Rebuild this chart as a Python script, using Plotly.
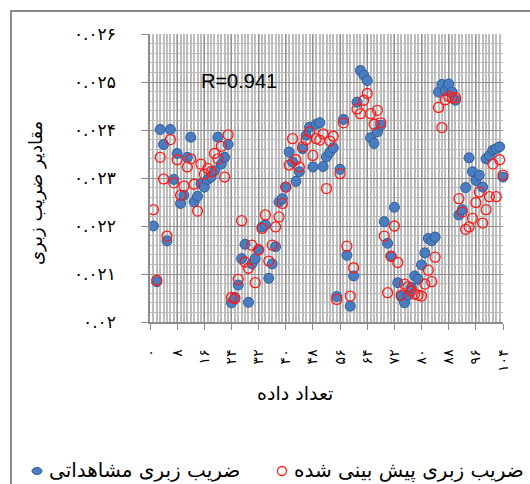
import plotly.graph_objects as go

# sample index (x) and roughness coefficients
SAMPLE_INDEX = list(range(1, 105))

OBSERVED = [
    0.02200, 0.02084, 0.02401, 0.02370, 0.02169, 0.02401, 0.02297, 0.02351, 0.02247, 0.02264,
    0.02343, 0.02385, 0.02250, 0.02262, 0.02288, 0.02281, 0.02297, 0.02302, 0.02315, 0.02385,
    0.02329, 0.02343, 0.02370, 0.02040, 0.02051, 0.02077, 0.02132, 0.02162, 0.02041, 0.02121,
    0.02132, 0.02151, 0.02198, 0.02202, 0.02091, 0.02121, 0.02157, 0.02250, 0.02257, 0.02281,
    0.02354, 0.02333, 0.02293, 0.02313, 0.02361, 0.02389, 0.02406, 0.02323, 0.02412, 0.02415,
    0.02324, 0.02344, 0.02354, 0.02363, 0.02053, 0.02318, 0.02422, 0.02139, 0.02033, 0.02096,
    0.02458, 0.02524, 0.02514, 0.02503, 0.02384, 0.02372, 0.02396, 0.02410, 0.02209, 0.02164,
    0.02137, 0.02239, 0.02082, 0.02053, 0.02040, 0.02056, 0.02072, 0.02096, 0.02089, 0.02119,
    0.02144, 0.02174, 0.02169, 0.02177, 0.02479, 0.02495, 0.02482, 0.02496, 0.02479, 0.02462,
    0.02223, 0.02234, 0.02280, 0.02342, 0.02313, 0.02295, 0.02306, 0.02281, 0.02340, 0.02347,
    0.02358, 0.02361, 0.02365, 0.02302,
]

PREDICTED = [
    0.02234, 0.02087, 0.02343, 0.02298, 0.02179, 0.02380, 0.02290, 0.02338, 0.02264, 0.02283,
    0.02323, 0.02340, 0.02287, 0.02231, 0.02329, 0.02308, 0.02320, 0.02313, 0.02351, 0.02340,
    0.02366, 0.02302, 0.02390, 0.02051, 0.02049, 0.02089, 0.02211, 0.02125, 0.02112, 0.02160,
    0.02082, 0.02150, 0.02195, 0.02223, 0.02127, 0.02160, 0.02198, 0.02219, 0.02247, 0.02281,
    0.02327, 0.02382, 0.02338, 0.02323, 0.02365, 0.02380, 0.02396, 0.02347, 0.02382, 0.02379,
    0.02392, 0.02278, 0.02377, 0.02387, 0.02047, 0.02309, 0.02415, 0.02158, 0.02054, 0.02113,
    0.02444, 0.02434, 0.02462, 0.02476, 0.02434, 0.02412, 0.02441, 0.02415, 0.02179, 0.02061,
    0.02137, 0.02200, 0.02124, 0.02056, 0.02079, 0.02073, 0.02065, 0.02058, 0.02056, 0.02054,
    0.02079, 0.02108, 0.02084, 0.02135, 0.02447, 0.02405, 0.02463, 0.02470, 0.02467, 0.02467,
    0.02257, 0.02229, 0.02193, 0.02198, 0.02216, 0.02249, 0.02271, 0.02206, 0.02234, 0.02261,
    0.02329, 0.02261, 0.02338, 0.02306,
]

SERIES_NAMES = ["ضریب زبری مشاهداتی", "ضریب زبری پیش بینی شده"]
X_TITLE = "تعداد داده"
Y_TITLE = "مقادیر ضریب زبری"
R_LABEL = "R=0.941"

FA_DIGITS = str.maketrans("0123456789", "۰۱۲۳۴۵۶۷۸۹")
X_TICKS = list(range(0, 105, 8))
X_TICK_LABELS = [str(v).translate(FA_DIGITS) for v in X_TICKS]
Y_TICKS = [0.020, 0.021, 0.022, 0.023, 0.024, 0.025, 0.026]
Y_TICK_LABELS = ["۰.۰۲", "۰.۰۲۱", "۰.۰۲۲", "۰.۰۲۳", "۰.۰۲۴", "۰.۰۲۵", "۰.۰۲۶"]

BLUE = "#4a7dc0"
BLUE_EDGE = "#2e5d9c"
RED = "#ff1a1a"
AXIS_GREY = "#8c8c8c"
FA_FONT = "DejaVu Sans, Noto Sans, sans-serif"

# plot-area geometry in pixels (used to place items in paper units)
W, H = 530, 484
ML, MR, MT, MB = 150, 27, 34, 162
PW, PH = W - ML - MR, H - MT - MB


def px_x(px):
    return (px - ML) / PW


def px_y(py):
    return (H - MB - py) / PH


fig = go.Figure()

fig.add_trace(go.Scatter(
    x=SAMPLE_INDEX, y=OBSERVED, mode="markers", name=SERIES_NAMES[0],
    marker=dict(symbol="circle", size=10, color=BLUE, line=dict(color=BLUE_EDGE, width=1)),
    cliponaxis=False, showlegend=False,
))
fig.add_trace(go.Scatter(
    x=SAMPLE_INDEX, y=PREDICTED, mode="markers", name=SERIES_NAMES[1],
    marker=dict(symbol="circle-open", size=10, color=RED, line=dict(color=RED, width=1.3)),
    cliponaxis=False, showlegend=False,
))

fig.update_xaxes(
    range=[0, 104], tickmode="array", tickvals=X_TICKS, ticktext=X_TICK_LABELS,
    tickangle=-90, ticks="outside", ticklen=6, tickcolor=AXIS_GREY, tickwidth=1,
    ticklabelstandoff=14,
    tickfont=dict(family=FA_FONT, size=14, color="#000000"),
    showline=True, linecolor=AXIS_GREY, linewidth=1.5,
    showgrid=True, gridcolor="#939393", gridwidth=1.3, zeroline=False,
    minor=dict(tickmode="linear", tick0=0, dtick=1, showgrid=True,
               gridcolor="#bdbdbd", gridwidth=1.5, ticks=""),
)
fig.update_yaxes(
    range=[0.020, 0.026], tickmode="array", tickvals=Y_TICKS, ticktext=Y_TICK_LABELS,
    ticks="outside", ticklen=7, tickcolor=AXIS_GREY, tickwidth=1,
    ticklabelstandoff=22,
    tickfont=dict(family=FA_FONT, size=17, color="#000000"),
    showline=True, linecolor=AXIS_GREY, linewidth=1.5,
    showgrid=True, gridcolor="#939393", gridwidth=1.3, zeroline=False,
    minor=dict(tickmode="linear", tick0=0.020, dtick=0.0002, showgrid=True,
               gridcolor="#bdbdbd", gridwidth=1.3, ticks=""),
)

annotations = [
    dict(text=R_LABEL, x=px_x(239), y=px_y(81), xref="paper", yref="paper",
         xanchor="center", yanchor="middle", showarrow=False,
         font=dict(family="Liberation Sans, Arial, sans-serif", size=20, color="#000000")),
    dict(text=Y_TITLE, x=px_x(36), y=px_y(193), xref="paper", yref="paper",
         xanchor="center", yanchor="middle", textangle=-90, showarrow=False,
         font=dict(family=FA_FONT, size=18, color="#000000")),
    dict(text=X_TITLE, x=px_x(295), y=px_y(393), xref="paper", yref="paper",
         xanchor="center", yanchor="middle", showarrow=False,
         font=dict(family=FA_FONT, size=19, color="#000000")),
    dict(text=SERIES_NAMES[0], x=px_x(47), y=px_y(470), xref="paper", yref="paper",
         xanchor="left", yanchor="middle", showarrow=False,
         font=dict(family=FA_FONT, size=20, color="#000000")),
    dict(text=SERIES_NAMES[1], x=px_x(292), y=px_y(470), xref="paper", yref="paper",
         xanchor="left", yanchor="middle", showarrow=False,
         font=dict(family=FA_FONT, size=20, color="#000000")),
]

shapes = [
    # chart-area frame
    dict(type="rect", xref="paper", yref="paper",
         x0=px_x(11), x1=px_x(560), y0=px_y(520), y1=px_y(11),
         line=dict(color="#8a8a8a", width=2), fillcolor="rgba(0,0,0,0)", layer="below"),
    # legend swatches
    dict(type="circle", xref="paper", yref="paper", xsizemode="pixel", ysizemode="pixel",
         xanchor=px_x(37), yanchor=px_y(471), x0=-5, x1=5, y0=-3.5, y1=3.5,
         fillcolor=BLUE, line=dict(color=BLUE_EDGE, width=1)),
    dict(type="circle", xref="paper", yref="paper", xsizemode="pixel", ysizemode="pixel",
         xanchor=px_x(282), yanchor=px_y(471), x0=-4.5, x1=4.5, y0=-4.5, y1=4.5,
         fillcolor="rgba(0,0,0,0)", line=dict(color=RED, width=1.3)),
]

fig.update_layout(
    width=W, height=H, autosize=False,
    margin=dict(l=ML, r=MR, t=MT, b=MB, pad=0),
    paper_bgcolor="#ffffff", plot_bgcolor="#ffffff",
    showlegend=False,
    annotations=annotations, shapes=shapes,
)

fig.write_html("out.html")
